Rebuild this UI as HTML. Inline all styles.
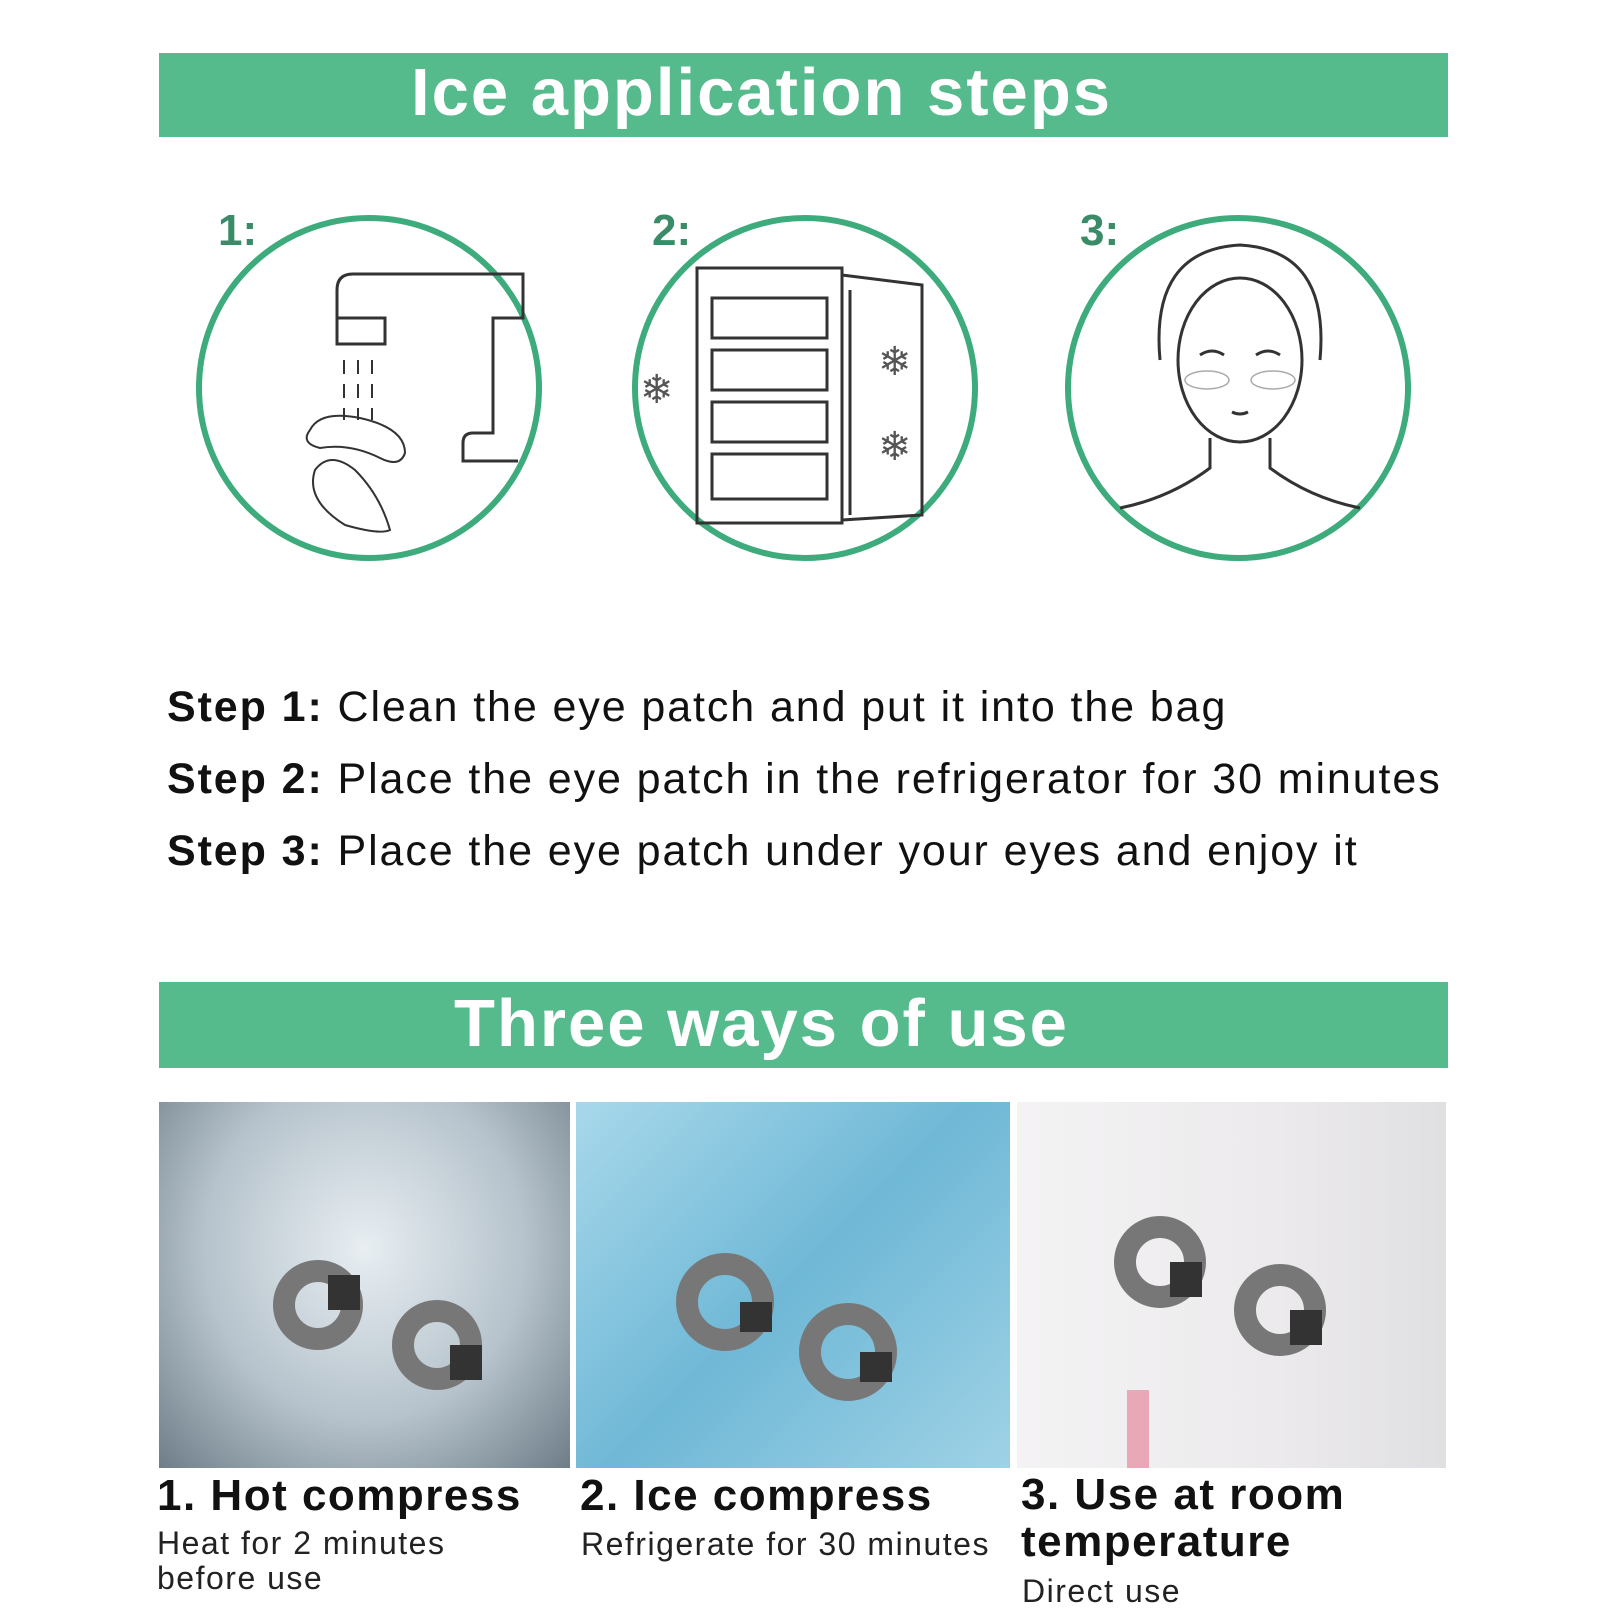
<!DOCTYPE html>
<html><head><style>
body{margin:0;width:1600px;height:1600px;background:#fff;position:relative;overflow:hidden;font-family:"Liberation Sans",sans-serif;}
.hdr{position:absolute;left:159px;width:1205px;padding-right:84px;background:#56bb8c;color:#fff;font-weight:bold;text-align:center;letter-spacing:2px;}
.t{position:absolute;white-space:nowrap;color:#111;}
.ph{position:absolute;top:1102px;height:366px;overflow:hidden;}
.st{font-size:43px;line-height:48px;letter-spacing:1.9px;}
</style></head><body>
<div class="hdr" style="top:53px;height:84px;line-height:80px;font-size:67px;">Ice application steps</div>

<svg style="position:absolute;left:0;top:0" width="1600" height="620">
<g fill="none" stroke="#3dab7c" stroke-width="6">
<circle cx="369" cy="388" r="170"/><circle cx="805" cy="388" r="170"/><circle cx="1238" cy="388" r="170"/>
</g>
<g font-family="Liberation Sans" font-weight="bold" font-size="44" fill="#3a8c68">
<text x="218" y="245">1:</text><text x="652" y="245">2:</text><text x="1080" y="245">3:</text>
</g>
<g fill="none" stroke="#333" stroke-width="3">
<path d="M337 318 v-28 q0-16 16-16 h170 v44 h-30 v115 h-20 q-10 0-10 10 v18 h55"/>
<rect x="337" y="318" width="48" height="26"/>
<path d="M344 360v14M358 360v14M372 360v14M344 384v14M358 384v14M372 384v14M344 408v12M358 408v12M372 408v12" stroke-width="2"/>
<path d="M310 430 q10-20 50-12 q45 10 45 35 q-5 15-25 5 q-30-15-60-10 q-20-5-10-18z" stroke-width="2"/>
<path d="M315 470 q15-20 40 0 q25 25 35 60 q-10 5-45-5 q-40-25-30-55z" stroke-width="2"/>
<rect x="697" y="268" width="145" height="255"/>
<rect x="712" y="298" width="115" height="40"/><rect x="712" y="350" width="115" height="40"/><rect x="712" y="402" width="115" height="40"/><rect x="712" y="454" width="115" height="45"/>
<path d="M842 275 l80 10 v230 l-80 5z"/>
<path d="M850 290v225"/>
<ellipse cx="1240" cy="360" rx="62" ry="82"/>
<path d="M1160 360 q-10-110 80-115 q90 5 80 115"/>
<path d="M1210 438 v30 q-40 30-90 40 M1270 438 v30 q40 30 90 40"/>
<path d="M1200 355 q12-8 24 0 M1256 355 q12-8 24 0" />
<path d="M1232 412 q8 4 16 0"/>
</g>
<g fill="none" stroke="#aaa" stroke-width="1.5">
<ellipse cx="1207" cy="380" rx="22" ry="9"/><ellipse cx="1273" cy="380" rx="22" ry="9"/>
</g>
<g font-size="40" fill="#555" font-family="DejaVu Sans"><text x="640" y="403">❄</text><text x="878" y="375">❄</text><text x="878" y="460">❄</text></g>
</svg>

<div class="t st" style="left:167px;top:683px;"><b>Step 1:</b> Clean the eye patch and put it into the bag</div>
<div class="t st" style="left:167px;top:755px;"><b>Step 2:</b> Place the eye patch in the refrigerator for 30 minutes</div>
<div class="t st" style="left:167px;top:827px;"><b>Step 3:</b> Place the eye patch under your eyes and enjoy it</div>

<div class="hdr" style="top:982px;height:86px;line-height:84px;font-size:67px;">Three ways of use</div>

<div class="ph" style="left:159px;width:411px;background:radial-gradient(ellipse at 50% 40%,#e8eef2 0%,#b6c3cc 55%,#6e7d88 100%);"></div>
<div class="ph" style="left:576px;width:434px;background:linear-gradient(135deg,#a8d8ea,#6fb8d6 50%,#9fd2e6);"></div>
<div class="ph" style="left:1017px;width:429px;background:linear-gradient(90deg,#f4f3f4,#eceaec 60%,#e0dfe2);"></div>
<svg style="position:absolute;left:0;top:0" width="1600" height="1600">
<g fill="none" stroke-width="22">
<g stroke="#777"><circle cx="318" cy="1305" r="34"/><circle cx="437" cy="1345" r="34"/><circle cx="725" cy="1302" r="38"/><circle cx="848" cy="1352" r="38"/><circle cx="1160" cy="1262" r="35"/><circle cx="1280" cy="1310" r="35"/></g>
</g>
<g fill="#333">
<path d="M328 1275 h32 v35 h-32z"/><path d="M450 1345 h32 v35 h-32z"/><path d="M740 1302 h32 v30 h-32z"/><path d="M860 1352 h32 v30 h-32z"/><path d="M1170 1262 h32 v35 h-32z"/><path d="M1290 1310 h32 v35 h-32z"/>
</g>
<rect x="1127" y="1390" width="22" height="78" fill="#e8a8b8"/>
</svg>

<div class="t" style="left:157px;top:1471px;font-size:44px;font-weight:bold;letter-spacing:1.5px;">1. Hot compress</div>
<div class="t" style="left:157px;top:1526px;font-size:32px;line-height:35px;color:#222;letter-spacing:1.5px;">Heat for 2 minutes<br>before use</div>
<div class="t" style="left:580px;top:1471px;font-size:44px;font-weight:bold;letter-spacing:1.5px;">2. Ice compress</div>
<div class="t" style="left:581px;top:1526px;font-size:32px;color:#222;letter-spacing:1.5px;">Refrigerate for 30 minutes</div>
<div class="t" style="left:1021px;top:1471px;font-size:44px;font-weight:bold;line-height:47px;letter-spacing:1.5px;">3. Use at room<br>temperature</div>
<div class="t" style="left:1022px;top:1573px;font-size:32px;color:#222;letter-spacing:1.5px;">Direct use</div>
</body></html>
